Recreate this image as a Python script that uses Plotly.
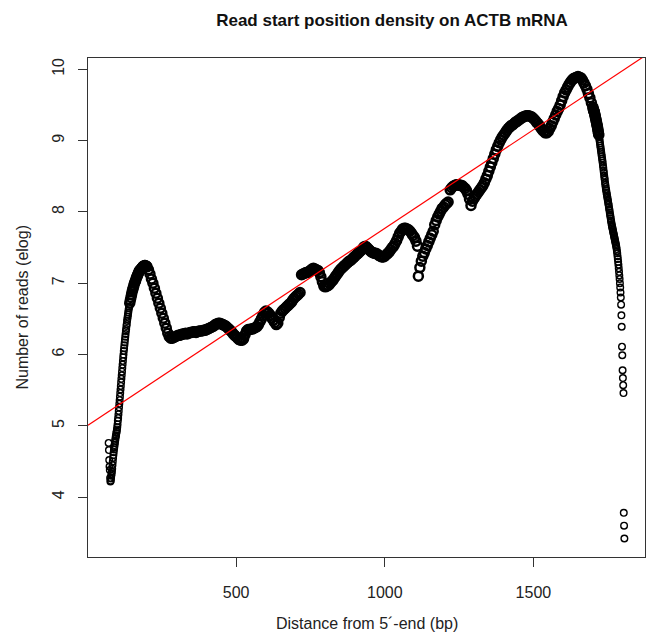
import plotly.graph_objects as go

# Read start density (natural log of read counts) along the ACTB transcript.
# Each block: first position, spacing in bp, and the log read counts.

# 5' end, per base
start_5p, step_5p = 71, 1
reads_5p = [
    4.76, 4.66, 4.52, 4.43, 4.38, 4.27, 4.22, 4.23, 4.26, 4.30,
    4.33, 4.36, 4.40, 4.45, 4.50, 4.55, 4.59, 4.63, 4.67, 4.70,
    4.73, 4.76, 4.79, 4.82, 4.85, 4.87, 4.90, 4.92, 4.95, 4.98,
    5.02, 5.07, 5.11, 5.16, 5.21, 5.26, 5.31, 5.36, 5.41, 5.46,
    5.51, 5.56, 5.61, 5.66, 5.71, 5.76, 5.81, 5.86, 5.91, 5.96,
    6.00, 6.05, 6.09, 6.13, 6.17, 6.21, 6.25, 6.29, 6.33, 6.36,
    6.40, 6.43, 6.47, 6.50, 6.53, 6.56, 6.59, 6.62, 6.65, 6.67,
]

# first peak
start_peak1, step_peak1 = 142, 2
reads_peak1 = [
    6.72, 6.76, 6.80, 6.84, 6.88, 6.91, 6.94, 6.97, 7.00, 7.02,
    7.04, 7.07, 7.09, 7.11, 7.13, 7.15, 7.17, 7.18, 7.19, 7.20,
    7.21, 7.22, 7.23, 7.24, 7.24, 7.25, 7.25, 7.24, 7.24,
]

# body, 200-1110
start_body1, step_body1 = 200, 5
reads_body1 = [
    7.23, 7.19, 7.13, 7.06, 7.00, 6.93, 6.86, 6.79, 6.72, 6.65,
    6.58, 6.51, 6.44, 6.37, 6.30, 6.25, 6.23, 6.23, 6.24, 6.25,
    6.26, 6.27, 6.27, 6.28, 6.29, 6.29, 6.30, 6.29, 6.30, 6.31,
    6.31, 6.32, 6.32, 6.31, 6.32, 6.33, 6.33, 6.33, 6.34, 6.34,
    6.35, 6.36, 6.37, 6.38, 6.39, 6.40, 6.42, 6.43, 6.44, 6.44,
    6.43, 6.42, 6.41, 6.40, 6.38, 6.36, 6.34, 6.32, 6.29, 6.27,
    6.25, 6.23, 6.21, 6.20, 6.20, 6.22, 6.28, 6.33, 6.35, 6.35,
    6.36, 6.36, 6.37, 6.38, 6.39, 6.42, 6.46, 6.50, 6.55, 6.59,
    6.61, 6.60, 6.58, 6.55, 6.51, 6.48, 6.45, 6.42, 6.44, 6.52,
    6.58, 6.61, 6.63, 6.65, 6.67, 6.69, 6.71, 6.73, 6.76, 6.79,
    6.81, 6.83, 6.85, 6.87, 7.12, 7.13, 7.14, 7.15, 7.15, 7.16,
    7.18, 7.20, 7.21, 7.20, 7.19, 7.18, 7.15, 7.09, 7.02, 6.96,
    6.95, 6.96, 6.97, 6.99, 7.02, 7.04, 7.07, 7.10, 7.13, 7.16,
    7.19, 7.21, 7.23, 7.25, 7.27, 7.29, 7.31, 7.32, 7.34, 7.36,
    7.38, 7.40, 7.42, 7.44, 7.46, 7.48, 7.51, 7.52, 7.50, 7.48,
    7.46, 7.44, 7.43, 7.42, 7.42, 7.41, 7.39, 7.38, 7.37, 7.37,
    7.38, 7.40, 7.42, 7.44, 7.47, 7.50, 7.52, 7.56, 7.60, 7.65,
    7.70, 7.73, 7.76, 7.77, 7.77, 7.76, 7.75, 7.73, 7.70, 7.67,
    7.64, 7.59, 7.52,
]

# body, 1113-1213
start_body2, step_body2 = 1113, 5
reads_body2 = [
    7.10, 7.22, 7.31, 7.38, 7.43, 7.48, 7.53, 7.58, 7.63, 7.68,
    7.73, 7.82, 7.88, 7.93, 7.97, 8.01, 8.05, 8.07, 8.10, 8.12,
    8.14,
]

# body to main peak, 1220-1700
start_body3, step_body3 = 1220, 5
reads_body3 = [
    8.31, 8.34, 8.36, 8.37, 8.38, 8.38, 8.38, 8.37, 8.37, 8.35,
    8.33, 8.30, 8.25, 8.18, 8.09, 8.15, 8.19, 8.22, 8.25, 8.28,
    8.31, 8.34, 8.37, 8.41, 8.46, 8.51, 8.57, 8.63, 8.69, 8.75,
    8.81, 8.87, 8.92, 8.97, 9.01, 9.05, 9.08, 9.11, 9.14, 9.17,
    9.19, 9.21, 9.22, 9.24, 9.26, 9.27, 9.29, 9.30, 9.32, 9.33,
    9.34, 9.35, 9.35, 9.35, 9.34, 9.33, 9.31, 9.29, 9.26, 9.24,
    9.21, 9.18, 9.15, 9.13, 9.11, 9.11, 9.13, 9.17, 9.21, 9.26,
    9.31, 9.36, 9.41, 9.45, 9.50, 9.56, 9.62, 9.67, 9.71, 9.75,
    9.79, 9.82, 9.85, 9.87, 9.88, 9.89, 9.90, 9.89, 9.88, 9.85,
    9.81, 9.77, 9.72, 9.66, 9.60, 9.53, 9.47,
]

# shoulder after the main peak, per base
start_shoulder, step_shoulder = 1701, 1
reads_shoulder = [
    9.45, 9.43, 9.42, 9.41, 9.40, 9.38, 9.36, 9.34, 9.32, 9.30,
    9.28, 9.26, 9.24, 9.22, 9.20, 9.18, 9.15, 9.13, 9.10, 9.08,
]

# 3' drop, per base
start_3p, step_3p = 1721, 1
reads_3p = [
    9.05, 9.02, 8.99, 8.96, 8.93, 8.90, 8.87, 8.84, 8.81, 8.78,
    8.75, 8.72, 8.69, 8.65, 8.62, 8.58, 8.55, 8.51, 8.48, 8.45,
    8.41, 8.38, 8.35, 8.32, 8.30, 8.27, 8.25, 8.22, 8.20, 8.17,
    8.15, 8.12, 8.10, 8.07, 8.04, 8.02, 7.99, 7.96, 7.94, 7.91,
    7.88, 7.86, 7.83, 7.81, 7.79, 7.77, 7.75, 7.73, 7.71, 7.69,
    7.67, 7.65, 7.63, 7.61, 7.59, 7.57, 7.55, 7.53, 7.51, 7.48,
    7.45, 7.42, 7.38, 7.34, 7.30, 7.26, 7.21, 7.16, 7.11, 7.06,
    7.00, 6.94, 6.87, 6.80, 6.70, 6.55, 6.39,
    6.11, 5.99, 5.78, 5.67, 5.57, 5.46, 3.78, 3.60, 3.42,
]

# linear fit drawn across the panel
fit_intercept = 5.005
fit_slope = 0.002765

# plotting symbols: dense stretches pile up into a solid band,
# steep stretches show the individual open circles
RING = dict(size=6.6, width=1.4)
BAND = dict(size=9.0, width=2.5)

blocks = [
    (start_5p, step_5p, reads_5p, RING),
    (start_peak1, step_peak1, reads_peak1, BAND),
    (start_body1, step_body1, reads_body1, BAND),
    (start_body2, step_body2, reads_body2, BAND),
    (start_body3, step_body3, reads_body3, BAND),
    (start_shoulder, step_shoulder, reads_shoulder, BAND),
    (start_3p, step_3p, reads_3p, RING),
]

pos, reads, sizes, widths = [], [], [], []
for start, step, vals, sym in blocks:
    pos.extend(start + step * i for i in range(len(vals)))
    reads.extend(vals)
    sizes.extend([sym["size"]] * len(vals))
    widths.extend([sym["width"]] * len(vals))


def r_range(vals):
    lo, hi = min(vals), max(vals)
    pad = 0.04 * (hi - lo)
    return [lo - pad, hi + pad]


x_range = r_range(pos)
y_range = r_range(reads)

FONT = "Liberation Sans, Arial, Helvetica, sans-serif"

fig = go.Figure()
fig.add_trace(go.Scatter(
    x=pos, y=reads, mode="markers",
    marker=dict(symbol="circle-open", size=sizes, color="black", opacity=1,
                line=dict(width=widths, color="black")),
    hoverinfo="skip", showlegend=False,
))
fig.add_trace(go.Scatter(
    x=x_range,
    y=[fit_intercept + fit_slope * v for v in x_range],
    mode="lines", line=dict(color="#ff0000", width=1.2),
    hoverinfo="skip", showlegend=False,
))

axis_common = dict(
    showgrid=False, zeroline=False,
    showline=True, mirror=True, linecolor="#333333", linewidth=1.2,
    ticks="outside", ticklen=9, tickwidth=1.2, tickcolor="#333333",
    tickfont=dict(family=FONT, size=16, color="#222222"),
)

fig.update_xaxes(range=x_range, tickvals=[500, 1000, 1500],
                 ticklabelstandoff=12, **axis_common)
fig.update_yaxes(range=y_range, tickvals=[4, 5, 6, 7, 8, 9, 10],
                 tickangle=-90, ticklabelstandoff=8, **axis_common)

fig.update_layout(
    width=648, height=636,
    margin=dict(l=88, r=3, t=58, b=79),
    paper_bgcolor="white", plot_bgcolor="white",
    font=dict(family=FONT, color="#222222"),
    title=dict(text="<b>Read start position density on ACTB mRNA</b>",
               x=392 / 648, xref="container", xanchor="center",
               y=1 - 20 / 636, yref="container", yanchor="middle",
               font=dict(family=FONT, size=17, color="#111111")),
    annotations=[
        dict(text="Distance from 5\u00b4-end (bp)", xref="paper", yref="paper",
             x=0.5, y=-66 / 499, xanchor="center", yanchor="middle",
             showarrow=False, font=dict(family=FONT, size=16, color="#222222")),
        dict(text="Number of reads (elog)", xref="paper", yref="paper",
             x=-66 / 557.5, y=0.5, xanchor="center", yanchor="middle",
             textangle=-90, showarrow=False,
             font=dict(family=FONT, size=16, color="#222222")),
    ],
)

fig.write_html("out.html")
